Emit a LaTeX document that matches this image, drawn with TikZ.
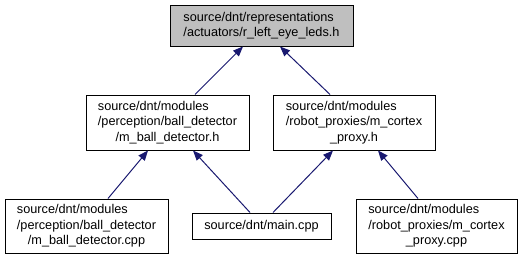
\documentclass[tikz,border=0pt]{standalone}
\usepackage{fontspec}
\setmainfont{Liberation Sans}
\usepackage{calc}
\usetikzlibrary{arrows.meta}
\definecolor{edgeblue}{RGB}{25,25,112}
\definecolor{nodegray}{RGB}{191,191,191}
% first line set flush left within the width of the (widest) second line
\newcommand\leftfirst[2]{\makebox[\widthof{#2}][l]{#1}}
\begin{document}
\begin{tikzpicture}[x=1pt,y=-1pt,
  file/.style={draw=black, line width=1pt, fill=white, inner sep=0pt,
    align=center, font=\fontsize{12.7}{15.3}\selectfont},
  current/.style={file, fill=nodegray},
  dep/.style={draw=edgeblue, line width=1pt,
    -{Triangle[length=10pt,width=8pt]}}]
\useasboundingbox (0,0) rectangle (526,260);

\node[current, minimum width=183pt, minimum height=41pt] (top) at (261.5,25.5)
  {\leftfirst{source/dnt/representations}{/actuators/r\_left\_eye\_leds.h}\\
   /actuators/r\_left\_eye\_leds.h};

\node[file, minimum width=163pt, minimum height=55pt] (ball) at (167.5,122.5)
  {\leftfirst{source/dnt/modules}{/perception/ball\_detector}\\
   /perception/ball\_detector\\/m\_ball\_detector.h};

\node[file, minimum width=162pt, minimum height=55pt] (cortex) at (354,122.5)
  {\leftfirst{source/dnt/modules}{/robot\_proxies/m\_cortex}\\
   /robot\_proxies/m\_cortex\\\_proxy.h};

\node[file, minimum width=163pt, minimum height=54pt] (ballcpp) at (86.5,226)
  {\leftfirst{source/dnt/modules}{/perception/ball\_detector}\\
   /perception/ball\_detector\\/m\_ball\_detector.cpp};

\node[file, minimum width=139pt, minimum height=26pt] (main) at (261.5,226)
  {source/dnt/main.cpp};

\node[file, minimum width=161pt, minimum height=54pt] (cortexcpp) at (436.5,226)
  {\leftfirst{source/dnt/modules}{/robot\_proxies/m\_cortex}\\
   /robot\_proxies/m\_cortex\\\_proxy.cpp};

% include dependencies, arrow pointing at the included file
\draw[dep] ([xshift=27.5pt]ball.north) -- ([xshift=-18.5pt]top.south);
\draw[dep] ([xshift=-24pt]cortex.north) -- ([xshift=18.5pt]top.south);
\draw[dep] ([xshift=21.5pt]ballcpp.north) -- ([xshift=-19.5pt]ball.south);
\draw[dep] ([xshift=-11.5pt]main.north) -- ([xshift=25.5pt]ball.south);
\draw[dep] ([xshift=11.5pt]main.north) -- ([xshift=-21pt]cortex.south);
\draw[dep] ([xshift=-18.5pt]cortexcpp.north) -- ([xshift=24pt]cortex.south);
\end{tikzpicture}
\end{document}
